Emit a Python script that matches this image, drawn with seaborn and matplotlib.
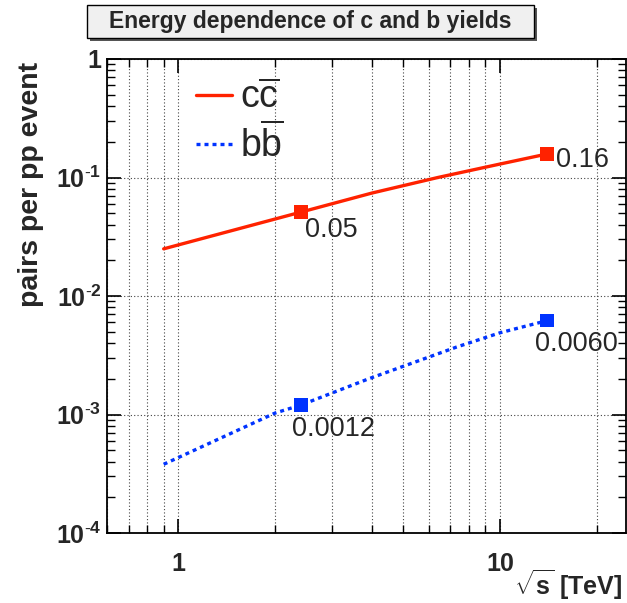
import numpy as np
import pandas as pd
import matplotlib
matplotlib.use("Agg")
import matplotlib.pyplot as plt
import matplotlib.ticker as mticker
from matplotlib.patches import Rectangle
import seaborn as sns

# ---- data ----
cc_x = [0.9, 2.4, 4.0, 6.4, 10.0, 14.0]
cc_y = [0.025, 0.051, 0.074, 0.100, 0.130, 0.158]
bb_x = [0.9, 2.0, 2.4, 3.9, 7.3, 10.0, 14.0]
bb_y = [3.8e-4, 1.03e-3, 1.2e-3, 2.0e-3, 3.7e-3, 4.9e-3, 6.2e-3]
cc_mark_x = [2.4, 14.0]
cc_mark_y = [0.051, 0.158]
cc_mark_lbl = ["0.05", "0.16"]
bb_mark_x = [2.4, 14.0]
bb_mark_y = [0.0012, 0.0062]
bb_mark_lbl = ["0.0012", "0.0060"]
title = "Energy dependence of c and b yields"
ylabel = "pairs per pp event"

sns.set_style("ticks")
plt.rcParams["font.family"] = ["Liberation Sans", "DejaVu Sans"]
plt.rcParams["mathtext.fontset"] = "custom"
plt.rcParams["mathtext.rm"] = "Liberation Sans"
plt.rcParams["mathtext.it"] = "Liberation Sans:italic"
plt.rcParams["mathtext.bf"] = "Liberation Sans:bold"
plt.rcParams["mathtext.sf"] = "Liberation Sans"
plt.rcParams["axes.unicode_minus"] = False

W, H = 627, 603
fig = plt.figure(figsize=(W / 100, H / 100), dpi=100)
L, R, T, B = 107, 626, 59, 533
ax = fig.add_axes([L / W, 1 - B / H, (R - L) / W, (B - T) / H])

red = "#ff2200"
blue = "#0033ff"

cc_df = pd.DataFrame({"x": cc_x, "y": cc_y})
bb_df = pd.DataFrame({"x": bb_x, "y": bb_y})
sns.lineplot(data=cc_df, x="x", y="y", ax=ax, color=red, lw=2.4,
             label=r"$\mathrm{c\overline{c}}$", sort=False)
sns.lineplot(data=bb_df, x="x", y="y", ax=ax, color=blue, lw=2.4,
             ls=(0, (1.2, 1.2)), label=r"$\mathrm{b\overline{b}}$", sort=False)

cm = pd.DataFrame({"x": cc_mark_x, "y": cc_mark_y})
bm = pd.DataFrame({"x": bb_mark_x, "y": bb_mark_y})
sns.scatterplot(data=cm, x="x", y="y", ax=ax, color=red, marker="s", s=95,
                edgecolor="none", zorder=5, legend=False)
sns.scatterplot(data=bm, x="x", y="y", ax=ax, color=blue, marker="s", s=95,
                edgecolor="none", zorder=5, legend=False)

ax.set_xscale("log")
ax.set_yscale("log")
ax.set_xlim(0.6, 24.6)
ax.set_ylim(1e-4, 1)

# annotations (offsets in points)
offs_cc = [(3, -13), (6, -4)]
offs_bb = [(-6, -17), (-9, -17)]
for xv, yv, t, o in zip(cc_mark_x, cc_mark_y, cc_mark_lbl, offs_cc):
    ax.annotate(t, (xv, yv), xytext=o, textcoords="offset points",
                ha="left", va="center", fontsize=19.5)
for xv, yv, t, o in zip(bb_mark_x, bb_mark_y, bb_mark_lbl, offs_bb):
    ax.annotate(t, (xv, yv), xytext=o, textcoords="offset points",
                ha="left", va="center", fontsize=19.5)

# ticks
ax.xaxis.set_major_locator(mticker.LogLocator(base=10, numticks=10))
ax.xaxis.set_minor_locator(mticker.LogLocator(base=10, subs=np.arange(2, 10), numticks=20))
ax.yaxis.set_major_locator(mticker.LogLocator(base=10, numticks=10))
ax.yaxis.set_minor_locator(mticker.LogLocator(base=10, subs=np.arange(2, 10), numticks=20))
ax.xaxis.set_minor_formatter(mticker.NullFormatter())
ax.yaxis.set_minor_formatter(mticker.NullFormatter())


def xfmt(v, pos):
    return {1: "1", 10: "10"}.get(int(round(v)), "") if v >= 1 else ""


def yfmt(v, pos):
    e = int(round(np.log10(v)))
    if e == 0:
        return "1"
    return r"$\mathbf{10^{\text{-}%d}}$" % (-e)


ax.xaxis.set_major_formatter(mticker.FuncFormatter(xfmt))
ax.yaxis.set_major_formatter(mticker.FuncFormatter(yfmt))
ax.tick_params(which="both", direction="in", top=True, right=True, color="black")
ax.tick_params(which="major", length=10, width=1.2, labelsize=18)
ax.tick_params(which="minor", length=5.5, width=1.0)
ax.tick_params(axis="x", which="major", pad=14)
ax.tick_params(axis="y", which="major", pad=4)
for lab in ax.get_xticklabels() + ax.get_yticklabels():
    lab.set_fontweight("bold")

ax.grid(which="both", axis="x", color="#444444", ls=(0, (1, 2)), lw=0.8)
ax.grid(which="major", axis="y", color="#444444", ls=(0, (1, 2)), lw=0.8)
for s in ax.spines.values():
    s.set_color("black")
    s.set_linewidth(1.3)

# axis titles
ax.set_xlabel(r"$\mathbf{\sqrt{s}}$ [TeV]", fontsize=18, fontweight="bold")
ax.xaxis.set_label_coords((622 - L) / (R - L), (B - 585) / (B - T))
ax.xaxis.label.set(ha="right", va="center")
ax.set_ylabel(ylabel, fontsize=20.5, fontweight="bold")
ax.yaxis.set_label_coords((31 - L) / (R - L), (B - 62) / (B - T))
ax.yaxis.label.set(ha="right", va="center", rotation_mode="anchor")

# legend
leg = ax.legend(loc="upper left", bbox_to_anchor=((196 - L) / (R - L), (B - 80) / (B - T)),
                frameon=False, fontsize=27, handlelength=0.96, handletextpad=0.2,
                labelspacing=0.2, borderaxespad=0, borderpad=0)

# title box with shadow
bx0, bx1, by0, by1 = 87, 534, 5, 38
fig.patches.append(Rectangle(((bx0 + 3) / W, 1 - (by1 + 3) / H), (bx1 - bx0) / W, (by1 - by0) / H,
                             transform=fig.transFigure, facecolor="#555555", edgecolor="none", zorder=1))
fig.patches.append(Rectangle((bx0 / W, 1 - by1 / H), (bx1 - bx0) / W, (by1 - by0) / H,
                             transform=fig.transFigure, facecolor="#f0f0f0", edgecolor="black",
                             lw=1.0, zorder=2))
fig.text((bx0 + bx1) / 2 / W, 1 - (by0 + by1) / 2 / H, title, ha="center", va="center",
         fontsize=16.5, fontweight="bold", zorder=3)

fig.savefig("out.png", dpi=100, facecolor="white")
